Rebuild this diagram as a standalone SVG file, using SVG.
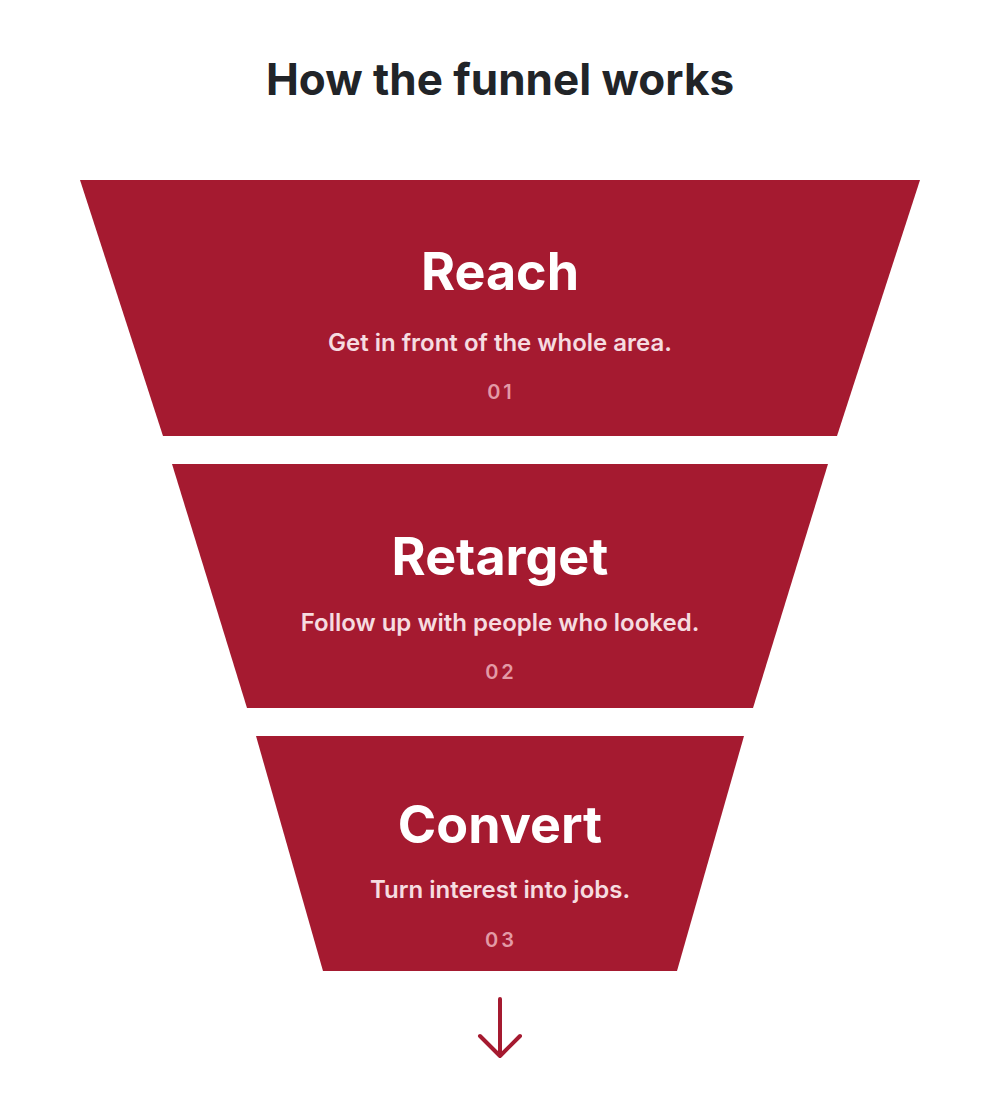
<svg xmlns="http://www.w3.org/2000/svg" width="1000" height="1104" viewBox="0 0 1000 1104">
<style>
.stage{fill:#A51A30}
.t{font-family:Inter,"Noto Sans",sans-serif;text-anchor:middle}
.h{font-size:52px;font-weight:700;fill:#fff}
.s{font-size:24px;font-weight:600;fill:#F6DCE0}
.n{font-size:20px;font-weight:600;fill:#E39AA6;letter-spacing:3px}
</style>
<rect width="1000" height="1104" fill="#fff"/>
<text class="t" x="500" y="95" font-size="44" font-weight="700" fill="#212428">How the funnel works</text>
<g id="reach">
<polygon class="stage" points="80,180 920,180 837,436 163,436"/>
<text class="t h" x="500" y="290">Reach</text>
<text class="t s" x="500" y="351">Get in front of the whole area.</text>
<text class="t n" x="501" y="399">01</text>
</g>
<g id="retarget">
<polygon class="stage" points="172,464 828,464 753,708 247,708"/>
<text class="t h" x="500" y="575">Retarget</text>
<text class="t s" x="500" y="631">Follow up with people who looked.</text>
<text class="t n" x="501" y="679">02</text>
</g>
<g id="convert">
<polygon class="stage" points="256,736 744,736 677,971 323,971"/>
<text class="t h" x="500" y="843">Convert</text>
<text class="t s" x="500" y="898">Turn interest into jobs.</text>
<text class="t n" x="501" y="947">03</text>
</g>
<g id="connectors" fill="none" stroke="#A51A30" stroke-width="4" stroke-linecap="round" stroke-linejoin="round">
<path d="M500 999 V1056 M480 1036 L500 1056 L520 1036"/>
</g>
</svg>
